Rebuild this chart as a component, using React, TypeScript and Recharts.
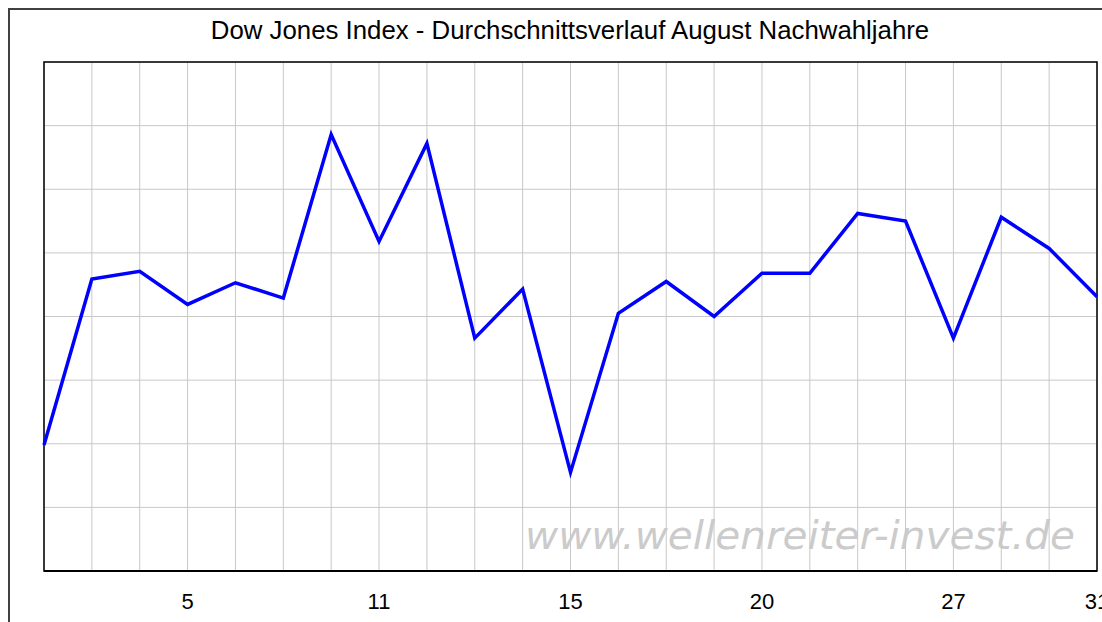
import React from 'react'
import { LineChart, Line, XAxis, YAxis, CartesianGrid, ReferenceArea } from 'recharts'

// trading days of August, index 0..22; only some get a label
const dayLabels = ['', '', '', '5', '', '', '', '11', '', '', '', '15', '', '', '', '20', '', '', '', '27', '', '', '31']

// average course, in grid units (y axis has no labels in the original)
const avgCourse = [
  1.98, 4.59, 4.71, 4.19, 4.53, 4.29, 6.86, 5.18, 6.72, 3.66, 4.43, 1.55,
  4.05, 4.55, 4.0, 4.68, 4.68, 5.62, 5.5, 3.66, 5.56, 5.07, 4.31,
]

const yTicks = [0, 1, 2, 3, 4, 5, 6, 7, 8]

const title = 'Dow Jones Index - Durchschnittsverlauf August Nachwahljahre'
const watermark = 'www.wellenreiter-invest.de'

const W = 1102
const H = 622
const font = '"Liberation Sans", Arial, sans-serif'

export default function App() {
  const data = avgCourse.map((v, i) => ({ i, label: dayLabels[i], value: v }))

  // horizontal grid lines at the y ticks, via the axis scale when available
  const hGrid = ({ yAxis, offset }: any) =>
    yTicks.map((t) =>
      yAxis && typeof yAxis.scale === 'function'
        ? yAxis.scale(t)
        : offset.top + offset.height * (1 - t / 8)
    )

  return (
    <div style={{ position: 'relative', width: W, height: H, overflow: 'hidden', background: '#fff' }}>
      <style>{'body{margin:0;overflow:hidden}'}</style>

      {/* background: outer frame, title, watermark */}
      <svg width={W} height={H} style={{ position: 'absolute', left: 0, top: 0 }}>
        <line x1={8} y1={9} x2={W} y2={9} stroke="#404040" strokeWidth={2} />
        <line x1={9} y1={8} x2={9} y2={H} stroke="#404040" strokeWidth={2} />
        <text x={570} y={39} textAnchor="middle" fontFamily={font} fontSize={25.8} fill="#000">
          {title}
        </text>
        <text
          x={525}
          y={549}
          fontFamily='"DejaVu Sans", Verdana, sans-serif'
          fontStyle="italic"
          fontSize={39}
          fill="#cbcbcb"
          textLength={550}
          lengthAdjust="spacingAndGlyphs"
        >
          {watermark}
        </text>
      </svg>

      <div style={{ position: 'absolute', left: 0, top: 0 }}>
        <LineChart width={W} height={H} data={data} margin={{ top: 62, right: 5, bottom: 11, left: 44 }}>
          <CartesianGrid stroke="#c8c8c8" strokeWidth={1} horizontalCoordinatesGenerator={hGrid} />
          <XAxis
            dataKey="i"
            interval={0}
            tickFormatter={(i: number) => dayLabels[i]}
            tickLine={false}
            tickSize={6}
            tickMargin={16}
            height={40}
            axisLine={{ stroke: '#000', strokeWidth: 2 }}
            tick={{ fill: '#000', fontSize: 22, fontFamily: font }}
          />
          <YAxis
            type="number"
            domain={[0, 8]}
            ticks={yTicks}
            width={0}
            tick={false}
            tickLine={false}
            axisLine={{ stroke: '#000', strokeWidth: 2 }}
          />
          <ReferenceArea x1={0} x2={22} y1={0} y2={8} fill="none" stroke="#000" strokeWidth={1.5} />
          <Line
            type="linear"
            dataKey="value"
            stroke="#0000ff"
            strokeWidth={3.5}
            dot={false}
            activeDot={false}
            isAnimationActive={false}
          />
        </LineChart>
      </div>
    </div>
  )
}
